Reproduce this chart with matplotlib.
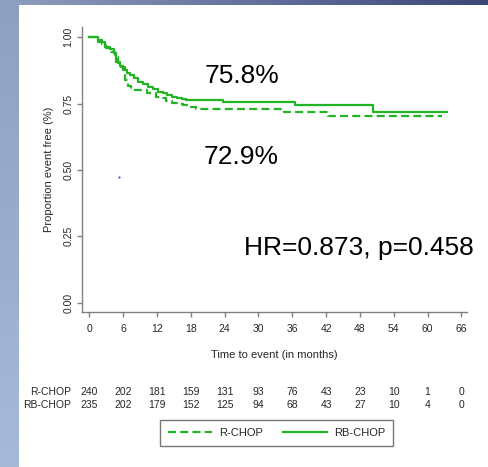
import matplotlib
matplotlib.use('Agg')
import matplotlib.pyplot as plt
import numpy as np
from matplotlib.colors import to_rgb

plt.rcParams['font.family'] = ['Liberation Sans', 'DejaVu Sans']

# Kaplan-Meier estimates (months, event-free proportion)
months_r = [0, 1.2, 2.2, 3.0, 3.8, 4.5, 5.1, 5.7, 6.3, 6.8, 7.4, 10.2, 11.9, 12.5,
            13.6, 14.6, 15.6, 16.6, 17.8, 19.0, 34.6, 42.3, 62.5]
surv_r = [1.0, 0.99, 0.975, 0.96, 0.945, 0.925, 0.905, 0.889, 0.839, 0.815, 0.801,
          0.789, 0.776, 0.770, 0.762, 0.754, 0.750, 0.745, 0.738, 0.729, 0.720,
          0.703, 0.703]

months_rb = [0, 1.6, 2.8, 3.6, 4.3, 4.8, 5.4, 6.0, 6.6, 7.2, 8.0, 8.7, 9.5, 10.4,
             11.3, 12.2, 13.0, 13.7, 14.6, 15.5, 16.4, 17.2, 23.7, 36.4, 50.3, 63.5]
surv_rb = [1.0, 0.983, 0.965, 0.955, 0.94, 0.908, 0.892, 0.877, 0.866, 0.858, 0.845,
           0.833, 0.823, 0.814, 0.804, 0.795, 0.789, 0.783, 0.776, 0.770, 0.767,
           0.765, 0.758, 0.745, 0.718, 0.718]

# 2-year event-free rates and hazard ratio
efs_rb = 0.758
efs_r = 0.729
hr_text = 'HR=0.873, p=0.458'

# numbers at risk
risk_months = [0, 6, 12, 18, 24, 30, 36, 42, 48, 54, 60, 66]
risk_r = [240, 202, 181, 159, 131, 93, 76, 43, 23, 10, 1, 0]
risk_rb = [235, 202, 179, 152, 125, 94, 68, 43, 27, 10, 4, 0]

stray_dot = (5.3, 0.475)

green = '#22b422'
axis_grey = '#808080'
text_grey = '#262626'

W, H = 488, 467
fig = plt.figure(figsize=(W / 100, H / 100), dpi=100)
fig.patch.set_facecolor('white')

# slide frame: gradient bar on top, light strip on the left
bg = fig.add_axes([0, 0, 1, 1], zorder=-1)
c0, c1 = np.array(to_rgb('#8e9fc0')), np.array(to_rgb('#3b4779'))
g = np.linspace(0, 1, 256)[:, None]
top_rgb = (c0 * (1 - g) + c1 * g)[None, :, :]
bg.imshow(top_rgb, extent=(0, W, 5, 0), aspect='auto')
c2, c3 = np.array(to_rgb('#8e9fc0')), np.array(to_rgb('#a7b9d8'))
left_rgb = (c2 * (1 - g) + c3 * g)[:, None, :]
bg.imshow(left_rgb, extent=(0, 19, H, 0), aspect='auto')
bg.set_xlim(0, W)
bg.set_ylim(H, 0)
bg.axis('off')

ax = fig.add_axes([82 / W, 1 - 312 / H, (467 - 82) / W, (312 - 27) / H])
ax.set_facecolor('none')
ax.set_xlim(-1.3, 67.0)
ax.set_ylim(-0.035, 1.039)

ax.step(months_r, surv_r, where='post', color=green, lw=1.6, dashes=(3.6, 1.9),
        label='R-CHOP')
ax.step(months_rb, surv_rb, where='post', color=green, lw=1.6, label='RB-CHOP')
ax.plot(*stray_dot, 'o', color='#4a4aff', ms=1.6, mec='none')

for side in ['top', 'right']:
    ax.spines[side].set_visible(False)
for side in ['left', 'bottom']:
    ax.spines[side].set_color(axis_grey)
    ax.spines[side].set_linewidth(1.0)

ax.set_xticks(risk_months)
ax.set_yticks([0, 0.25, 0.5, 0.75, 1.0])
ax.set_yticklabels(['0.00', '0.25', '0.50', '0.75', '1.00'], rotation=90, va='center')
ax.tick_params(axis='both', colors=axis_grey, labelcolor=text_grey, labelsize=7.5,
               length=3.5, width=1.0)
ax.tick_params(axis='x', pad=5)
ax.tick_params(axis='y', pad=2.5)
ax.set_xlabel('Time to event (in months)', fontsize=8, color=text_grey, labelpad=12)
ax.set_ylabel('Proportion event free (%)', fontsize=8, color=text_grey, labelpad=7)

big = dict(fontsize=19, color='black', ha='center', va='baseline')
ax.text(27.0, 0.827, f'{efs_rb * 100:.1f}%', **big)
ax.text(27.0, 0.523, f'{efs_r * 100:.1f}%', **big)
ax.text(47.8, 0.18, hr_text, **big)

# numbers at risk table under the axis
xt = ax.get_xaxis_transform()
for name, counts, yy in [('R-CHOP', risk_r, -0.28), ('RB-CHOP', risk_rb, -0.326)]:
    ax.text(-3.3, yy, name, transform=xt, ha='right', va='center', fontsize=7.5,
            color=text_grey, clip_on=False)
    for m, n in zip(risk_months, counts):
        ax.text(m, yy, str(n), transform=xt, ha='center', va='center', fontsize=7.5,
                color=text_grey, clip_on=False)

leg = ax.legend(loc='center', bbox_to_anchor=(276.5 / W, 1 - 433 / H),
                bbox_transform=fig.transFigure, ncol=2, fancybox=False,
                fontsize=8, handlelength=4.0, columnspacing=1.8,
                handletextpad=0.6, borderpad=0.7)
leg.get_frame().set_edgecolor('#555555')
leg.get_frame().set_linewidth(1.0)
for t in leg.get_texts():
    t.set_color(text_grey)

fig.savefig('out.png', dpi=100)
